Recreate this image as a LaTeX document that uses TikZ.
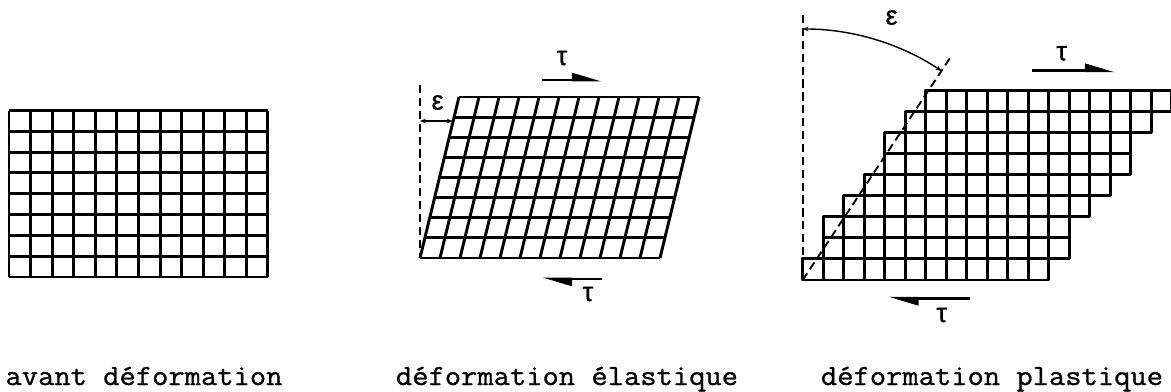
\documentclass[tikz,border=0pt]{standalone}
\usepackage{fontspec}
\newfontfamily\capfont[FakeStretch=1.08, FakeBold=0.9]{Latin Modern Mono}
\newfontfamily\greekfont[FakeBold=0.8]{Liberation Sans}
\usetikzlibrary{arrows.meta}

\begin{document}
\begin{tikzpicture}[x=0.03cm, y=-0.03cm,
    gridline/.style={line width=2.5pt, line join=round},
    guide/.style={line width=1.6pt, dash pattern=on 7pt off 4pt},
    shear/.style={line width=2.5pt, -{Triangle[harpoon, length=0.75cm, width=0.42cm]}},
    strain/.style={line width=1.2pt, {Stealth[length=5pt, width=4pt]}-{Stealth[length=5pt, width=4pt]}},
    caption/.style={anchor=base, font=\capfont\fontsize{25}{30}\selectfont},
    sym/.style={font=\greekfont\fontsize{23}{27}\selectfont, inner sep=0pt}]
  \useasboundingbox (0,0) rectangle (1171,392);

  % Undeformed grid
  \foreach \i in {0,...,12}
    \draw[gridline] (9+21.58*\i,110.5) -- (9+21.58*\i,277);
  \foreach \j in {0,...,8}
    \draw[gridline] (9,110.5+20.81*\j) -- (268,110.5+20.81*\j);
  \node[caption] (capA) at (144,385) {avant déformation};

  % Elastic grid (sheared)
  \foreach \i in {0,...,12}
    \draw[gridline] (420+20*\i,258) -- (459+20*\i,97);
  \foreach \j in {0,...,8}
    \draw[gridline] (420+4.875*\j,258-20.125*\j) -- (660+4.875*\j,258-20.125*\j);
  \draw[guide] (420,85) -- (420,258);
  \coordinate (eA1) at (420,121);
  \coordinate (eA2) at (452.5,121);
  \draw[strain] (eA1) -- (eA2);
  \node[sym] (epsA) at (437.5,102.5) {ε};
  % Shear arrows
  \coordinate (tA1) at (542,80);
  \coordinate (tA2) at (602,80);
  \draw[shear] (tA1) -- (tA2);
  \node[sym] (tauA) at (562,58) {τ};
  \coordinate (tB1) at (602,279);
  \coordinate (tB2) at (542,279);
  \draw[shear] (tB1) -- (tB2);
  \node[sym] (tauB) at (588,294) {τ};
  \node[caption] (capB) at (567,385) {déformation élastique};

  % Plastic grid (slipped rows)
  \foreach \s [count=\k from 0] in {0,1,1,2,3,4,4,5,6}
    \foreach \i in {0,...,11}
      \draw[gridline] (802.7+20.5*\s+20.5*\i,280-21.1*\k) rectangle ++(20.5,-21.1);
  \coordinate (o) at (802.7,280);
  \draw[guide] (802.7,15) -- (o);
  \draw[guide] (o) -- (950,58);
  \draw[strain] (o) ++(-90:251) arc[start angle=-90, end angle=-56.4, radius=251];
  \node[sym] (epsB) at (891.5,17.5) {ε};
  % Shear arrows
  \coordinate (tC1) at (1031.7,70.7);
  \coordinate (tC2) at (1115,70.7);
  \draw[shear] (tC1) -- (tC2);
  \node[sym] (tauC) at (1061.7,53.3) {τ};
  \coordinate (tD1) at (970,298.3);
  \coordinate (tD2) at (888.3,298.3);
  \draw[shear] (tD1) -- (tD2);
  \node[sym] (tauD) at (941.7,315) {τ};
  \node[caption] (capC) at (992,385) {déformation plastique};

\end{tikzpicture}
\end{document}
